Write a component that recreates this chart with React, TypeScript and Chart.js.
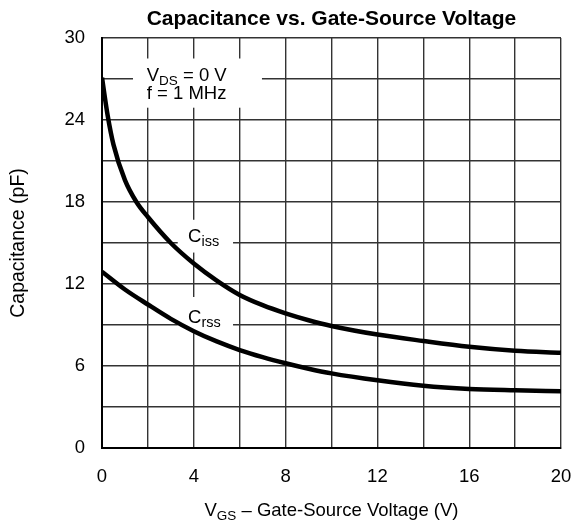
import React, { useEffect, useRef } from 'react';
import { Chart, registerables } from 'chart.js';

Chart.register(...registerables);

const FONT = '"Liberation Sans", Arial, Helvetica, sans-serif';

// Data
const vgsIss = [0, 0.25, 0.5, 1, 1.5, 2, 3, 4, 5, 6, 7, 8, 9, 10, 12, 14, 16, 18, 20];
const cissValues = [27.1, 24.3, 22.2, 19.6, 18.0, 16.9, 15.0, 13.5, 12.25, 11.2, 10.45, 9.85, 9.35, 8.93, 8.3, 7.83, 7.41, 7.12, 6.97];
const vgsRss = [0, 1, 2, 3, 4, 5, 6, 7, 8, 9, 10, 12, 14, 16, 18, 20];
const crssValues = [12.9, 11.6, 10.5, 9.45, 8.55, 7.8, 7.17, 6.65, 6.2, 5.8, 5.46, 4.95, 4.55, 4.32, 4.22, 4.15];

const xTickLabels = [0, 4, 8, 12, 16, 20];
const yTickLabels = [0, 6, 12, 18, 24, 30];

const titleText = 'Capacitance vs. Gate-Source Voltage';
const yTitleText = 'Capacitance (pF)';

type Seg = { t: string; sub?: boolean };

function drawSegs(ctx: CanvasRenderingContext2D, segs: Seg[], x: number, y: number, size: number, subSize: number, align: 'left' | 'center') {
  let total = 0;
  for (const s of segs) {
    ctx.font = `${s.sub ? subSize : size}px ${FONT}`;
    total += ctx.measureText(s.t).width;
  }
  let cx = align === 'center' ? x - total / 2 : x;
  ctx.textAlign = 'left';
  ctx.textBaseline = 'alphabetic';
  for (const s of segs) {
    ctx.font = `${s.sub ? subSize : size}px ${FONT}`;
    ctx.fillText(s.t, cx, s.sub ? y + 4 : y);
    cx += ctx.measureText(s.t).width;
  }
}

const overlay = {
  id: 'overlay',
  beforeDatasetsDraw(chart: any) {
    const { ctx, scales } = chart;
    const xs = scales.x;
    const ys = scales.y;
    const box = (x0: number, x1: number, y0: number, y1: number) => {
      const px0 = xs.getPixelForValue(x0);
      const px1 = xs.getPixelForValue(x1);
      const py0 = ys.getPixelForValue(y0);
      const py1 = ys.getPixelForValue(y1);
      ctx.fillStyle = '#ffffff';
      ctx.fillRect(px0, py0, px1 - px0, py1 - py0);
    };
    ctx.save();
    box(1.35, 6.97, 28.5, 24.9);
    box(3.3, 5.71, 16.7, 14.3);
    box(3.3, 5.71, 11.05, 8.4);
    ctx.fillStyle = '#000000';
    const tx = xs.getPixelForValue(1.95);
    drawSegs(ctx, [{ t: 'V' }, { t: 'DS', sub: true }, { t: ' = 0 V' }], tx, ys.getPixelForValue(27.35) + 6.6, 18.5, 13.5, 'left');
    drawSegs(ctx, [{ t: 'f = 1 MHz' }], tx, ys.getPixelForValue(26.05) + 6.6, 18.5, 13.5, 'left');
    const cx = xs.getPixelForValue(3.75);
    drawSegs(ctx, [{ t: 'C' }, { t: 'iss', sub: true }], cx, ys.getPixelForValue(15.55) + 6.6, 18.5, 14.5, 'left');
    drawSegs(ctx, [{ t: 'C' }, { t: 'rss', sub: true }], cx, ys.getPixelForValue(9.65) + 6.6, 18.5, 14.5, 'left');
    ctx.restore();
  },
  afterDraw(chart: any) {
    const { ctx, chartArea } = chart;
    const midX = (chartArea.left + chartArea.right) / 2;
    const midY = (chartArea.top + chartArea.bottom) / 2;
    ctx.save();
    ctx.fillStyle = '#000000';
    ctx.font = `bold 21px ${FONT}`;
    ctx.textAlign = 'center';
    ctx.textBaseline = 'alphabetic';
    ctx.fillText(titleText, midX, 25);
    drawSegs(ctx, [{ t: 'V' }, { t: 'GS', sub: true }, { t: ' \u2013 Gate-Source Voltage (V)' }], midX, 516, 18.5, 13.5, 'center');
    ctx.translate(24, midY);
    ctx.rotate(-Math.PI / 2);
    ctx.font = `19.5px ${FONT}`;
    ctx.textAlign = 'center';
    ctx.fillText(yTitleText, 0, 0);
    ctx.restore();
  },
};

export default function App() {
  const ref = useRef<HTMLCanvasElement | null>(null);
  useEffect(() => {
    if (!ref.current) return;
    const chart = new Chart(ref.current, {
      type: 'scatter',
      data: {
        datasets: [
          {
            label: 'Ciss',
            data: vgsIss.map((v, i) => ({ x: v, y: cissValues[i] })),
            showLine: true,
            borderColor: '#000000',
            borderWidth: 4.5,
            pointRadius: 0,
            cubicInterpolationMode: 'monotone',
            fill: false,
          },
          {
            label: 'Crss',
            data: vgsRss.map((v, i) => ({ x: v, y: crssValues[i] })),
            showLine: true,
            borderColor: '#000000',
            borderWidth: 4.5,
            pointRadius: 0,
            cubicInterpolationMode: 'monotone',
            fill: false,
          },
        ],
      },
      options: {
        animation: false,
        responsive: false,
        maintainAspectRatio: false,
        layout: { padding: { top: 38, right: 11, left: 0, bottom: 0 } },
        plugins: {
          legend: { display: false },
          tooltip: { enabled: false },
          title: { display: false },
        },
        scales: {
          x: {
            type: 'linear',
            min: 0,
            max: 20,
            afterFit: (s: any) => {
              s.height = 77;
              s.paddingRight = 0;
              s.paddingLeft = 0;
            },
            ticks: {
              stepSize: 2,
              color: '#000000',
              font: { family: FONT, size: 18.5 },
              padding: 18,
              maxRotation: 0,
              autoSkip: false,
              callback: (v: any) => (xTickLabels.includes(Number(v)) ? String(v) : ''),
            },
            grid: { color: '#333333', lineWidth: 1.4, drawTicks: false },
            border: { color: '#000000', width: 2 },
          },
          y: {
            type: 'linear',
            min: 0,
            max: 30,
            afterFit: (s: any) => {
              s.width = 102;
              s.paddingTop = 0;
              s.paddingBottom = 0;
            },
            ticks: {
              stepSize: 3,
              color: '#000000',
              font: { family: FONT, size: 18.5 },
              padding: 17,
              autoSkip: false,
              callback: (v: any) => (yTickLabels.includes(Number(v)) ? String(v) : ''),
            },
            grid: { color: '#333333', lineWidth: 1.4, drawTicks: false },
            border: { color: '#000000', width: 2 },
          },
        },
      },
      plugins: [overlay],
    } as any);
    return () => chart.destroy();
  }, []);
  return (
    <div style={{ position: 'fixed', left: 0, top: 0, width: 572, height: 525, background: '#ffffff' }}>
      <canvas ref={ref} width={572} height={525} style={{ width: 572, height: 525, display: 'block' }} />
    </div>
  );
}
